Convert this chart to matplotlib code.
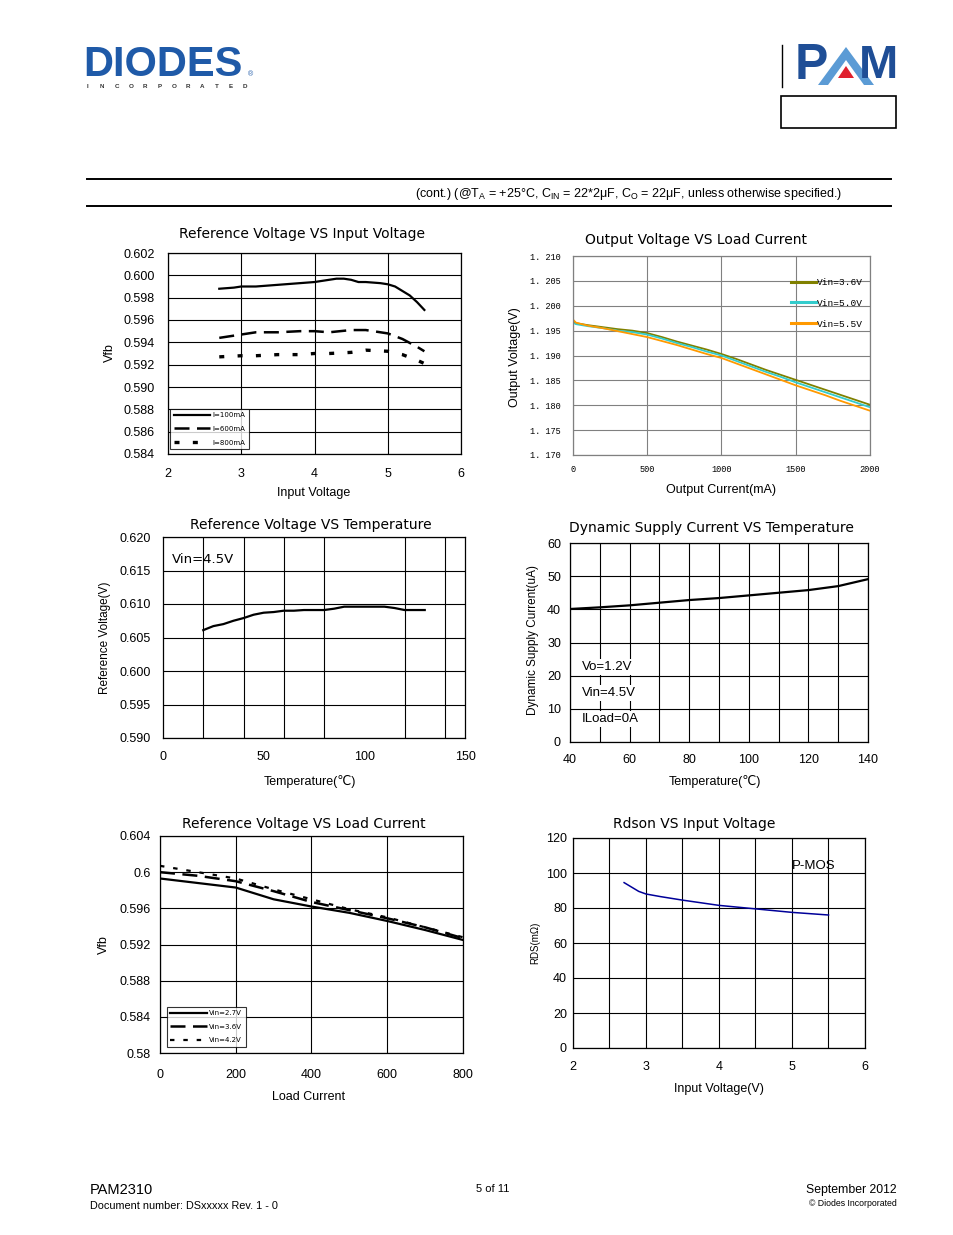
import numpy as np
import matplotlib
matplotlib.use("Agg")
import matplotlib.pyplot as plt
from matplotlib.patches import Polygon, Rectangle

W, H = 954, 1235
SANS = ['Liberation Sans', 'DejaVu Sans']
TITLE = ['DejaVu Sans']
MONO = ['Liberation Mono', 'DejaVu Sans Mono']

# --- chart 1: reference voltage vs input voltage
vin1 = [2.7, 2.9, 3.0, 3.2, 3.4, 3.6, 3.8, 4.0, 4.2, 4.3, 4.4, 4.5, 4.6, 4.7, 4.9, 5.0, 5.1, 5.2, 5.3, 5.4, 5.5]
vfb_100 = [0.5988, 0.5989, 0.5990, 0.5990, 0.5991, 0.5992, 0.5993, 0.5994, 0.5996, 0.5997, 0.5997,
           0.5996, 0.5994, 0.5994, 0.5993, 0.5992, 0.5990, 0.5986, 0.5982, 0.5976, 0.5969]
vin1b = [2.7, 3.0, 3.2, 3.5, 3.8, 4.0, 4.2, 4.5, 4.7, 5.0, 5.2, 5.4, 5.5]
vfb_600 = [0.5944, 0.5947, 0.5949, 0.5949, 0.5950, 0.5950, 0.5949, 0.5951, 0.5951, 0.5948, 0.5943, 0.5936, 0.5932]
vfb_800 = [0.5927, 0.5928, 0.5928, 0.5929, 0.5929, 0.5930, 0.5930, 0.5931, 0.5933, 0.5932, 0.5929, 0.5924, 0.5921]

# --- chart 2: output voltage vs load current
load2 = [0, 20, 100, 200, 300, 400, 500, 600, 700, 800, 900, 1000, 1100, 1200, 1300,
         1400, 1500, 1600, 1700, 1800, 1900, 2000]
vo_36 = [1.1968, 1.1965, 1.1961, 1.1957, 1.1953, 1.1950, 1.1945, 1.1937, 1.1928, 1.1920, 1.1912, 1.1903,
         1.1893, 1.1882, 1.1871, 1.1861, 1.1851, 1.1841, 1.1831, 1.1821, 1.1811, 1.1801]
vo_50 = [1.1966, 1.1963, 1.1959, 1.1955, 1.1950, 1.1947, 1.1942, 1.1934, 1.1925, 1.1917, 1.1908, 1.1900,
         1.1889, 1.1878, 1.1867, 1.1857, 1.1846, 1.1836, 1.1826, 1.1816, 1.1806, 1.1796]
load2b = [0, 0.5, 20, 100, 200, 300, 400, 500, 600, 700, 800, 900, 1000, 1100, 1200, 1300,
          1400, 1500, 1600, 1700, 1800, 1900, 2000]
vo_55 = [1.2022, 1.1972, 1.1966, 1.1960, 1.1955, 1.1949, 1.1943, 1.1937, 1.1929, 1.1921, 1.1912, 1.1903, 1.1895,
         1.1884, 1.1873, 1.1862, 1.1851, 1.1840, 1.1830, 1.1820, 1.1809, 1.1799, 1.1789]

# --- chart 3: reference voltage vs temperature
temp3 = [20, 25, 30, 35, 40, 45, 50, 55, 60, 65, 70, 80, 85, 90, 100, 110, 115, 120, 130]
vref3 = [0.6061, 0.6067, 0.6070, 0.6075, 0.6079, 0.6084, 0.6087, 0.6088, 0.6090, 0.6090, 0.6091,
         0.6091, 0.6093, 0.6096, 0.6096, 0.6096, 0.6094, 0.6091, 0.6091]

# --- chart 4: dynamic supply current vs temperature
temp4 = [40, 50, 60, 70, 80, 90, 100, 110, 120, 130, 140]
idd4 = [40.1, 40.6, 41.2, 42.0, 42.8, 43.4, 44.2, 45.0, 45.8, 47.0, 49.1]

# --- chart 5: reference voltage vs load current
load5 = [0, 100, 200, 300, 400, 500, 600, 700, 800]
vfb_27 = [0.5993, 0.5988, 0.5983, 0.5970, 0.5962, 0.5955, 0.5946, 0.5936, 0.5925]
vfb_36 = [0.6000, 0.5996, 0.5990, 0.5979, 0.5967, 0.5958, 0.5949, 0.5939, 0.5927]
vfb_42 = [0.6007, 0.6000, 0.5993, 0.5981, 0.5970, 0.5959, 0.5950, 0.5939, 0.5928]

# --- chart 6: rdson vs input voltage
vin6 = [2.7, 2.8, 2.9, 3.0, 3.2, 3.5, 4.0, 4.5, 5.0, 5.5]
rds6 = [94.5, 92.0, 89.5, 88.0, 86.5, 84.5, 81.5, 79.5, 77.5, 76.0]

fig = plt.figure(figsize=(W / 100, H / 100), dpi=100)

# background layer in pixel coordinates for header / footer
bg = fig.add_axes([0, 0, 1, 1])
bg.set_xlim(0, W)
bg.set_ylim(H, 0)
bg.axis('off')


def ftext(x, y, s, **kw):
    kw.setdefault('family', SANS)
    kw.setdefault('ha', 'center')
    kw.setdefault('va', 'center')
    bg.text(x, y, s, **kw)


def px_axes(l, t, r, b):
    return fig.add_axes([l / W, 1 - b / H, (r - l) / W, (b - t) / H])


def style(ax, xpad, ypad, size=9, family=SANS, gridc='black'):
    for sp in ax.spines.values():
        sp.set_linewidth(0.9)
        sp.set_color(gridc)
    ax.tick_params(length=0, labelsize=size)
    ax.tick_params(axis='x', pad=xpad * 0.72)
    ax.tick_params(axis='y', pad=ypad * 0.72)
    for lab in ax.get_xticklabels() + ax.get_yticklabels():
        lab.set_family(family)
    ax.grid(True, color=gridc, lw=0.8)
    ax.set_axisbelow(True)


# header: DIODES logo
blue = '#1f5aa8'
ftext(83, 76, 'DIODES', ha='left', va='baseline', fontsize=30, fontweight='bold', color=blue)
for i, ch in enumerate('INCORPORATED'):
    ftext(88 + i * 14.3, 87, ch, fontsize=4.5, fontweight='bold', color='#333333')
ftext(251, 75, '®', fontsize=5, color=blue)

# PAM logo
bg.plot([782, 782], [45, 87], color='black', lw=1)
ftext(795, 66, 'P', ha='left', fontsize=36, fontweight='bold', color='#1f4e96')
bg.add_patch(Polygon([[818, 85], [846, 47], [874, 85], [864, 85], [846, 60], [828, 85]],
                     closed=True, color='#5b9bd5', lw=0))
bg.add_patch(Polygon([[838, 78], [846, 66], [854, 78]], closed=True, color='#e0202e', lw=0))
ftext(898, 66, 'M', ha='right', fontsize=34, fontweight='bold', color='#1f4e96')
bg.add_patch(Rectangle((781, 96), 115, 32, fill=False, ec='black', lw=1.2))

bg.plot([87, 891], [179, 179], color='black', lw=1.4)
bg.plot([87, 891], [206, 206], color='black', lw=1.4)
ftext(842, 194, r'(cont.) (@T$_\mathregular{A}$ = +25°C, C$_\mathregular{IN}$ = 22*2μF, '
      r'C$_\mathregular{O}$ = 22μF, unless otherwise specified.)', ha='right', fontsize=9)

# footer
ftext(90, 1190, 'PAM2310', ha='left', fontsize=10.5)
ftext(90, 1206, 'Document number: DSxxxxx Rev. 1 - 0', ha='left', fontsize=7.8)
ftext(493, 1189, '5 of 11', fontsize=8)
ftext(897, 1190, 'September 2012', ha='right', fontsize=8.8)
ftext(897, 1204, '© Diodes Incorporated', ha='right', fontsize=6.3)

# ---------------- chart 1
ax1 = px_axes(168, 253, 461, 454)
ax1.plot(vin1, vfb_100, color='black', lw=1.6, label='I=100mA')
ax1.plot(vin1b, vfb_600, color='black', lw=1.8, dashes=(6, 3), label='I=600mA')
ax1.plot(vin1b, vfb_800, color='black', lw=2.4, dashes=(1.5, 4), label='I=800mA')
ax1.set_xlim(2, 6)
ax1.set_ylim(0.584, 0.602)
ax1.set_xticks([2, 3, 4, 5, 6])
ax1.set_yticks(np.arange(0.584, 0.6021, 0.002))
ax1.set_yticklabels(['%.3f' % v for v in np.arange(0.584, 0.6021, 0.002)])
style(ax1, 14, 13)
leg = ax1.legend(loc='lower left', bbox_to_anchor=(0.007, 0.025), fontsize=5, frameon=True,
                 fancybox=False, edgecolor='black', handlelength=5.3, handletextpad=0.3,
                 labelspacing=1.1, borderpad=0.5, borderaxespad=0)
leg.get_frame().set_linewidth(0.8)
ftext(302, 234, 'Reference Voltage VS Input Voltage', fontsize=10, family=TITLE)
ftext(110, 353, 'Vfb', fontsize=9, rotation=90)
ftext(314, 493, 'Input Voltage', fontsize=9)

# ---------------- chart 2
ax2 = px_axes(573, 256, 870, 455)
ax2.plot(load2, vo_36, color='#808000', lw=1.3, label='Vin=3.6V')
ax2.plot(load2, vo_50, color='#33cccc', lw=1.3, label='Vin=5.0V')
ax2.plot(load2b, vo_55, color='#ff9900', lw=1.3, label='Vin=5.5V')
ax2.set_xlim(0, 2000)
ax2.set_ylim(1.170, 1.210)
ax2.set_xticks([0, 500, 1000, 1500, 2000])
yt2 = np.arange(1.170, 1.2101, 0.005)
ax2.set_yticks(yt2)
ax2.set_yticklabels([('%.3f' % v).replace('.', '. ') for v in yt2])
style(ax2, 10, 12, size=6.2, family=MONO, gridc='#808080')
leg2 = ax2.legend(loc='upper left', bbox_to_anchor=(0.734, 0.89), frameon=False,
                  handlelength=2.6, handletextpad=0.1, labelspacing=1.25, borderpad=0, borderaxespad=0,
                  prop={'family': MONO, 'size': 6.8})
for ln in leg2.get_lines():
    ln.set_linewidth(2.2)
ftext(696, 240, 'Output Voltage VS Load Current', fontsize=10, family=TITLE)
ftext(515, 357, 'Output Voltage(V)', fontsize=9, rotation=90)
ftext(721, 490, 'Output Current(mA)', fontsize=9)

# ---------------- chart 3
ax3 = px_axes(163, 537, 465, 738)
ax3.plot(temp3, vref3, color='black', lw=1.6)
ax3.set_xlim(0, 150)
ax3.set_ylim(0.590, 0.620)
ax3.set_xticks([0, 50, 100, 150])
ax3.set_xticks(np.arange(20, 150, 20), minor=True)
yt3 = np.arange(0.590, 0.6201, 0.005)
ax3.set_yticks(yt3)
ax3.set_yticklabels(['%.3f' % v for v in yt3])
style(ax3, 13, 12)
ax3.grid(False, axis='x', which='major')
ax3.grid(True, axis='x', which='minor', color='black', lw=0.8)
ax3.tick_params(which='minor', length=0)
ax3.text(0.03, 0.89, 'Vin=4.5V', transform=ax3.transAxes, fontsize=9.5, family=TITLE, va='center')
ftext(311, 525, 'Reference Voltage VS Temperature', fontsize=10, family=TITLE)
ftext(105, 638, 'Reference Voltage(V)', fontsize=8.5, rotation=90)
ftext(310, 781, 'Temperature(℃)', fontsize=9)

# ---------------- chart 4
ax4 = px_axes(570, 543, 868, 742)
ax4.plot(temp4, idd4, color='black', lw=1.6)
ax4.set_xlim(40, 140)
ax4.set_ylim(0, 60)
ax4.set_xticks(np.arange(40, 141, 20))
ax4.set_xticks(np.arange(50, 140, 20), minor=True)
ax4.set_yticks(np.arange(0, 61, 10))
style(ax4, 12, 9)
ax4.grid(True, axis='x', which='minor', color='black', lw=0.8)
ax4.tick_params(which='minor', length=0)
for yy, s in zip([0.376, 0.246, 0.116], ['Vo=1.2V', 'Vin=4.5V', 'ILoad=0A']):
    ax4.text(0.04, yy, s, transform=ax4.transAxes, fontsize=9.5, family=SANS, va='center',
             bbox=dict(fc='white', ec='none', pad=1.5))
ftext(711, 528, 'Dynamic Supply Current VS Temperature', fontsize=10, family=TITLE)
ftext(533, 640, 'Dynamic Supply Current(uA)', fontsize=8.5, rotation=90)
ftext(715, 782, 'Temperature(℃)', fontsize=9)

# ---------------- chart 5
ax5 = px_axes(160, 836, 463, 1053)
ax5.plot(load5, vfb_27, color='black', lw=1.6, label='Vin=2.7V')
ax5.plot(load5, vfb_36, color='black', lw=1.8, dashes=(6, 3), label='Vin=3.6V')
ax5.plot(load5, vfb_42, color='black', lw=1.6, dashes=(2, 4), label='Vin=4.2V')
ax5.set_xlim(0, 800)
ax5.set_ylim(0.580, 0.604)
ax5.set_xticks([0, 200, 400, 600, 800])
yt5 = [0.58, 0.584, 0.588, 0.592, 0.596, 0.6, 0.604]
ax5.set_yticks(yt5)
ax5.set_yticklabels(['0.58', '0.584', '0.588', '0.592', '0.596', '0.6', '0.604'])
style(ax5, 16, 9)
leg5 = ax5.legend(loc='lower left', bbox_to_anchor=(0.023, 0.028), fontsize=5, frameon=True,
                  fancybox=False, edgecolor='black', handlelength=5.3, handletextpad=0.3,
                  labelspacing=1.1, borderpad=0.5, borderaxespad=0)
leg5.get_frame().set_linewidth(0.8)
ftext(304, 824, 'Reference Voltage VS Load Current', fontsize=10, family=TITLE)
ftext(104, 945, 'Vfb', fontsize=9, rotation=90)
ftext(309, 1097, 'Load Current', fontsize=9)

# ---------------- chart 6
ax6 = px_axes(573, 838, 865, 1048)
ax6.plot(vin6, rds6, color='#000099', lw=1.1)
ax6.set_xlim(2, 6)
ax6.set_ylim(0, 120)
ax6.set_xticks([2, 3, 4, 5, 6])
ax6.set_xticks(np.arange(2.5, 6, 1), minor=True)
ax6.set_yticks(np.arange(0, 121, 20))
style(ax6, 13, 6)
ax6.grid(True, axis='x', which='minor', color='black', lw=0.8)
ax6.tick_params(which='minor', length=0)
ax6.text(5.0, 104, 'P-MOS', fontsize=9.5, family=SANS, va='center', ha='left')
ftext(694, 824, 'Rdson VS Input Voltage', fontsize=10, family=TITLE)
ftext(535, 943, 'RDS(mΩ)', fontsize=7, rotation=90)
ftext(719, 1089, 'Input Voltage(V)', fontsize=9)

fig.savefig('out.png', dpi=100)
